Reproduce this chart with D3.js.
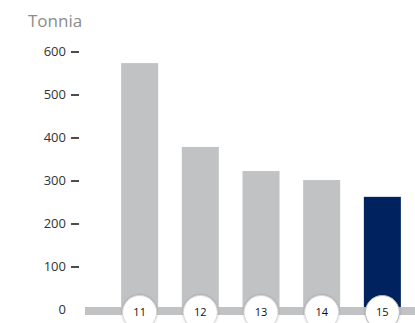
<!DOCTYPE html>
<html>
<head>
<meta charset="utf-8">
<script src="https://cdn.jsdelivr.net/npm/d3@7"></script>
<style>
  html, body { margin: 0; padding: 0; background: #fff; }
  svg { display: block; font-family: "Open Sans", "Noto Sans", sans-serif; }
</style>
</head>
<body>
<svg id="chart" width="415" height="323"></svg>
<script>
// Annual tonnage, years 2011–2015 (shown as two-digit labels)
const years = ["11", "12", "13", "14", "15"];
const tonnes = [573, 378, 322, 301, 262];
const yTicks = [0, 100, 200, 300, 400, 500, 600];
const unitLabel = "Tonnia";

const grey = "#c1c2c4";
const navy = "#00235f";

const svg = d3.select("#chart");

const x = d3.scaleBand()
  .domain(years)
  .range([109, 413])
  .paddingInner(0.39)
  .paddingOuter(0.2);

const y = d3.scaleLinear()
  .domain([0, 600])
  .range([309.5, 51.5]);

// Unit title
svg.append("text")
  .attr("x", 28)
  .attr("y", 27)
  .attr("fill", "#8c8c8c")
  .attr("font-size", 17)
  .text(unitLabel);

// Left axis: labels with short dashes, no domain line
const axis = d3.axisLeft(y)
  .tickValues(yTicks)
  .tickSize(0)
  .tickPadding(0)
  .tickFormat(d3.format("d"));

const gAxis = svg.append("g")
  .attr("transform", "translate(66,0)")
  .call(axis);
gAxis.select(".domain").remove();
gAxis.selectAll(".tick text")
  .attr("x", 0)
  .attr("fill", "#333")
  .attr("font-size", 13)
  .attr("font-family", "'Open Sans', 'Noto Sans', sans-serif");
gAxis.selectAll(".tick")
  .filter(d => d !== 0)
  .append("line")
  .attr("x1", 5)
  .attr("x2", 13)
  .attr("stroke", "#111")
  .attr("stroke-width", 1.5);

// Bars
svg.append("g")
  .selectAll("rect")
  .data(years)
  .join("rect")
  .attr("x", d => x(d))
  .attr("width", x.bandwidth())
  .attr("y", (d, i) => y(tonnes[i]))
  .attr("height", (d, i) => y(0) - y(tonnes[i]))
  .attr("fill", (d, i) => i === years.length - 1 ? navy : grey);

// Baseline band
svg.append("rect")
  .attr("x", 85)
  .attr("y", y(0) - 2.5)
  .attr("width", 330)
  .attr("height", 8)
  .attr("fill", grey);

// Year badges
const defs = svg.append("defs");
const f = defs.append("filter").attr("id", "soft").attr("x", "-30%").attr("y", "-30%").attr("width", "160%").attr("height", "160%");
f.append("feDropShadow").attr("dx", 0).attr("dy", 0).attr("stdDeviation", 0.8).attr("flood-color", "#000").attr("flood-opacity", 0.25);

const badges = svg.append("g")
  .selectAll("g")
  .data(years)
  .join("g")
  .attr("transform", d => `translate(${x(d) + x.bandwidth() / 2},${y(0) + 3})`);

badges.append("circle")
  .attr("r", 17)
  .attr("fill", "#fff")
  .attr("stroke", (d, i) => i === years.length - 1 ? "#b8b8b8" : "#d6d6d6")
  .attr("stroke-width", 1)
  .attr("filter", "url(#soft)");

badges.append("text")
  .attr("text-anchor", "middle")
  .attr("dy", "0.35em")
  .attr("font-size", 11)
  .attr("fill", "#111")
  .text(d => d);
</script>
</body>
</html>
